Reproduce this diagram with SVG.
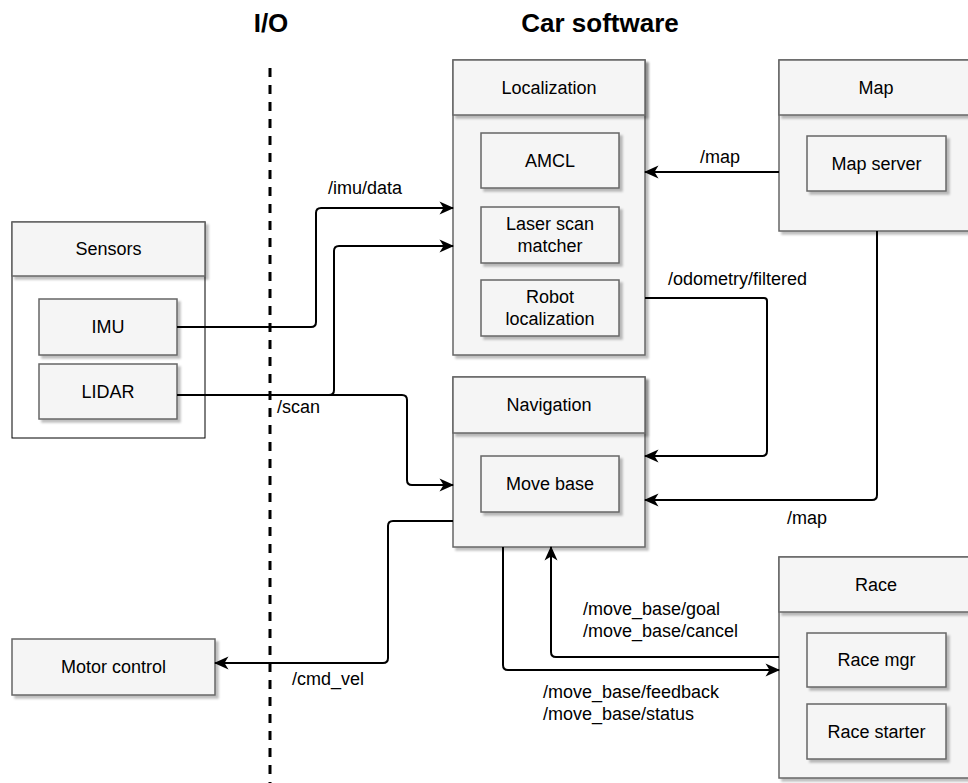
<svg xmlns="http://www.w3.org/2000/svg" width="968" height="783" viewBox="0 0 968 783">
  <defs>
    <filter id="sh" x="-10%" y="-10%" width="130%" height="130%">
      <feDropShadow dx="3" dy="3" stdDeviation="0.8" flood-color="#000" flood-opacity="0.25"/>
    </filter>
    <marker id="arr" viewBox="0 0 16 14" markerWidth="16" markerHeight="14" refX="15" refY="7" orient="auto" markerUnits="userSpaceOnUse">
      <path d="M16,7 L1.5,0.5 L5.5,7 L1.5,13.5 Z" fill="#000"/>
    </marker>
    <style>
      .box { fill: #f5f5f5; stroke: #666666; stroke-width: 1.5; filter: url(#sh); }
      .plain { fill: #ffffff; stroke: #000000; stroke-width: 1; }
      .t { font-family: "Liberation Sans", Arial, sans-serif; font-size: 18px; fill: #000; text-anchor: middle; }
      .lbl { font-family: "Liberation Sans", Arial, sans-serif; font-size: 18px; fill: #000; }
      .title { font-family: "Liberation Sans", Arial, sans-serif; font-size: 26px; font-weight: bold; fill: #000; text-anchor: middle; }
      .edge { fill: none; stroke: #000; stroke-width: 2; }
      .arrow { marker-end: url(#arr); }
      .divider { fill: none; stroke: #000; stroke-width: 3; stroke-dasharray: 9 8; }
    </style>
  </defs>

  <!-- column titles and the I/O boundary -->
  <text class="title" x="271" y="32">I/O</text>
  <text class="title" x="600" y="32">Car software</text>
  <line class="divider" x1="270" y1="68" x2="270" y2="783"/>

  <!-- Sensors -->
  <g id="sensors">
    <rect class="plain" x="12" y="222" width="193" height="216"/>
    <rect class="box" x="12" y="222" width="193" height="54"/>
    <text class="t" x="108.5" y="255">Sensors</text>
    <g id="imu">
      <rect class="box" x="39" y="299" width="138" height="56"/>
      <text class="t" x="108" y="333">IMU</text>
    </g>
    <g id="lidar">
      <rect class="box" x="39" y="364" width="138" height="55"/>
      <text class="t" x="108" y="398">LIDAR</text>
    </g>
  </g>

  <!-- Motor control -->
  <g id="motor-control">
    <rect class="box" x="12" y="639" width="203" height="56"/>
    <text class="t" x="113.5" y="673">Motor control</text>
  </g>

  <!-- Localization -->
  <g id="localization">
    <rect class="box" x="453" y="60" width="192" height="295"/>
    <rect class="box" x="453" y="60" width="192" height="55"/>
    <text class="t" x="549" y="94">Localization</text>
    <g id="amcl">
      <rect class="box" x="481" y="133" width="138" height="55"/>
      <text class="t" x="550" y="167">AMCL</text>
    </g>
    <g id="laser-scan-matcher">
      <rect class="box" x="481" y="207" width="138" height="56"/>
      <text class="t" x="550" y="230">Laser scan</text>
      <text class="t" x="550" y="252">matcher</text>
    </g>
    <g id="robot-localization">
      <rect class="box" x="481" y="280" width="138" height="56"/>
      <text class="t" x="550" y="303">Robot</text>
      <text class="t" x="550" y="325">localization</text>
    </g>
  </g>

  <!-- Map -->
  <g id="map">
    <rect class="box" x="779" y="60" width="192" height="171"/>
    <rect class="box" x="779" y="60" width="192" height="55"/>
    <text class="t" x="876" y="94">Map</text>
    <g id="map-server">
      <rect class="box" x="807" y="136" width="139" height="55"/>
      <text class="t" x="876.5" y="170">Map server</text>
    </g>
  </g>

  <!-- Navigation -->
  <g id="navigation">
    <rect class="box" x="453" y="377" width="192" height="170"/>
    <rect class="box" x="453" y="377" width="192" height="56"/>
    <text class="t" x="549" y="411">Navigation</text>
    <g id="move-base">
      <rect class="box" x="481" y="456" width="138" height="56"/>
      <text class="t" x="550" y="490">Move base</text>
    </g>
  </g>

  <!-- Race -->
  <g id="race">
    <rect class="box" x="779" y="557" width="192" height="221"/>
    <rect class="box" x="779" y="557" width="192" height="55"/>
    <text class="t" x="876" y="591">Race</text>
    <g id="race-mgr">
      <rect class="box" x="807" y="633" width="139" height="54"/>
      <text class="t" x="876.5" y="666">Race mgr</text>
    </g>
    <g id="race-starter">
      <rect class="box" x="807" y="704" width="139" height="55"/>
      <text class="t" x="876.5" y="738">Race starter</text>
    </g>
  </g>

  <!-- topics between nodes -->
  <g id="connectors">
    <path class="edge arrow" d="M177,327 L311,327 Q316,327 316,322 L316,213 Q316,208 321,208 L453,208"/>
    <path class="edge arrow" d="M177,395 L329,395 Q334,395 334,390 L334,251 Q334,246 339,246 L453,246"/>
    <path class="edge arrow" d="M177,395 L402,395 Q407,395 407,400 L407,480 Q407,485 412,485 L453,485"/>
    <path class="edge arrow" d="M779,172 L645,172"/>
    <path class="edge arrow" d="M645,298 L764,298 Q767,298 767,301 L767,451 Q767,456 762,456 L645,456"/>
    <path class="edge arrow" d="M877,231 L877,495 Q877,500 872,500 L645,500"/>
    <path class="edge arrow" d="M453,521 L393,521 Q388,521 388,526 L388,658 Q388,663 383,663 L215,663"/>
    <path class="edge arrow" d="M503,547 L503,665 Q503,670 508,670 L779,670"/>
    <path class="edge arrow" d="M779,657 L556,657 Q551,657 551,652 L551,547"/>

    <text class="lbl" x="328" y="194">/imu/data</text>
    <text class="lbl" x="277" y="413">/scan</text>
    <text class="lbl" x="700" y="163">/map</text>
    <text class="lbl" x="668" y="285">/odometry/filtered</text>
    <text class="lbl" x="787" y="524">/map</text>
    <text class="lbl" x="292" y="685">/cmd_vel</text>
    <text class="lbl" x="583" y="615">/move_base/goal</text>
    <text class="lbl" x="583" y="637">/move_base/cancel</text>
    <text class="lbl" x="543" y="698">/move_base/feedback</text>
    <text class="lbl" x="543" y="720">/move_base/status</text>
  </g>
</svg>
